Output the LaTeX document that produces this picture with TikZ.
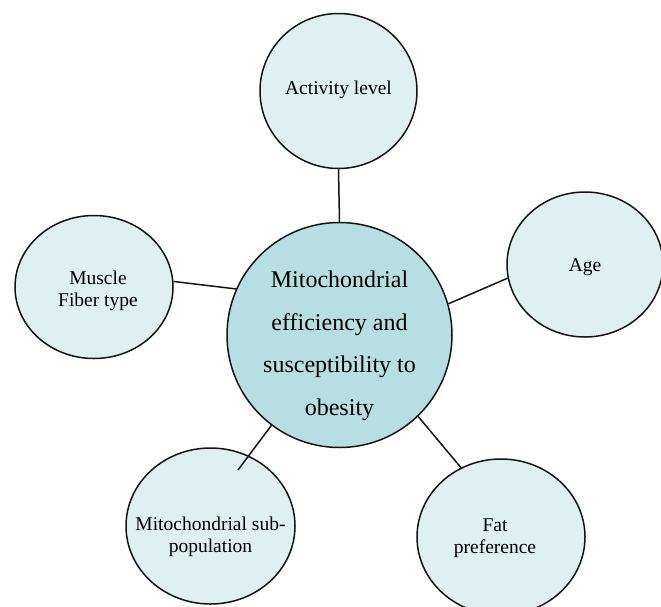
\documentclass[tikz,border=0pt]{standalone}
\usepackage{fontspec}
\setmainfont{Liberation Serif}
\usetikzlibrary{shapes.geometric}
\definecolor{mainfill}{RGB}{183,222,227}
\definecolor{outerfill}{RGB}{223,240,241}
\definecolor{edgecol}{RGB}{20,20,20}
\tikzset{
  bubble/.style={ellipse, draw=edgecol, line width=1.5pt, fill=outerfill, inner sep=0pt},
  hub/.style={circle, draw=edgecol, line width=1.5pt, fill=mainfill, inner sep=0pt, minimum size=225pt},
  smalltxt/.style={align=center, font=\fontsize{19.5}{22.5}\selectfont},
  bigtxt/.style={align=center, font=\fontsize{24}{42.5}\selectfont},
  link/.style={draw=edgecol, line width=1.5pt}
}
\begin{document}
\begin{tikzpicture}[x=1pt,y=-1pt]
\useasboundingbox (0,0) rectangle (661,606);
\clip (0,0) rectangle (661,606);
\fill[white] (0,0) rectangle (661,606);
\node[hub, label={[bigtxt, yshift=-11pt]center:Mitochondrial\\efficiency and\\susceptibility to\\obesity}] (main) at (339.5,335) {};
\node[bubble, minimum width=157pt, minimum height=155pt, label={[smalltxt, yshift=1pt]center:Activity level}] (act) at (338.5,91) {};
\node[bubble, minimum width=156pt, minimum height=145pt, label={[smalltxt, yshift=-3pt]center:Age}] (age) at (585,264.5) {};
\node[bubble, minimum width=158pt, minimum height=143pt, label={[smalltxt, xshift=4pt, yshift=-4pt]center:Muscle\\Fiber type}] (mus) at (94,287) {};
\node[bubble, minimum width=169pt, minimum height=156pt, label={[smalltxt, yshift=-11pt]center:Mitochondrial sub-\\population}] (msub) at (210.5,526) {};
\node[bubble, minimum width=168pt, minimum height=156pt, label={[smalltxt, xshift=-6pt, yshift=-1pt]center:Fat\\preference}] (fat) at (501,537) {};
\coordinate (msend) at (238,470);
\draw[link] (main.90) -- (act.270);
\draw[link] (main.156.7) -- (mus.4.4);
\draw[link] (main.16.3) -- (age.190.2);
\draw[link] (main.233.4) -- (msend);
\draw[link] (main.314.8) -- (fat.120.1);
\end{tikzpicture}
\end{document}
